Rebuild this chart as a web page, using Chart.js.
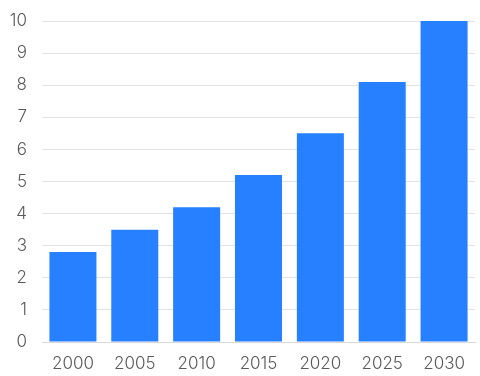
<!DOCTYPE html>
<html>
<head>
<meta charset="utf-8">
<script src="https://cdn.jsdelivr.net/npm/chart.js@4"></script>
<style>
  html, body { margin: 0; padding: 0; background: #fff; }
  #wrap { width: 480px; height: 376px; }
</style>
</head>
<body>
<div id="wrap"><canvas id="chart"></canvas></div>
<script>
const years = ['2000', '2005', '2010', '2015', '2020', '2025', '2030'];
const values = [2.8, 3.5, 4.2, 5.2, 6.5, 8.1, 10];

const tickFont = { family: 'Inter, "Open Sans", sans-serif', size: 17, weight: 300 };

new Chart(document.getElementById('chart'), {
  type: 'bar',
  data: {
    labels: years,
    datasets: [{
      data: values,
      backgroundColor: '#2680ff',
      categoryPercentage: 0.8,
      barPercentage: 0.95,
    }],
  },
  options: {
    responsive: true,
    maintainAspectRatio: false,
    animation: false,
    layout: { padding: { top: 21, right: 5, left: 7, bottom: 0 } },
    plugins: { legend: { display: false }, tooltip: { enabled: false } },
    scales: {
      x: {
        grid: { display: false, drawTicks: false },
        border: { display: true, color: '#d9d9d9' },
        ticks: { color: '#5a5a5a', font: tickFont, padding: 12 },
        afterFit: (scale) => { scale.height = 34; },
      },
      y: {
        min: 0,
        max: 10,
        ticks: { stepSize: 1, color: '#5a5a5a', font: tickFont, padding: 15 },
        grid: { color: '#e3e3e3', drawTicks: false },
        border: { display: false },
        afterFit: (scale) => {
          scale.width = 35;
          scale.paddingTop = 0;
          scale.paddingBottom = 0;
        },
      },
    },
  },
});
</script>
</body>
</html>
